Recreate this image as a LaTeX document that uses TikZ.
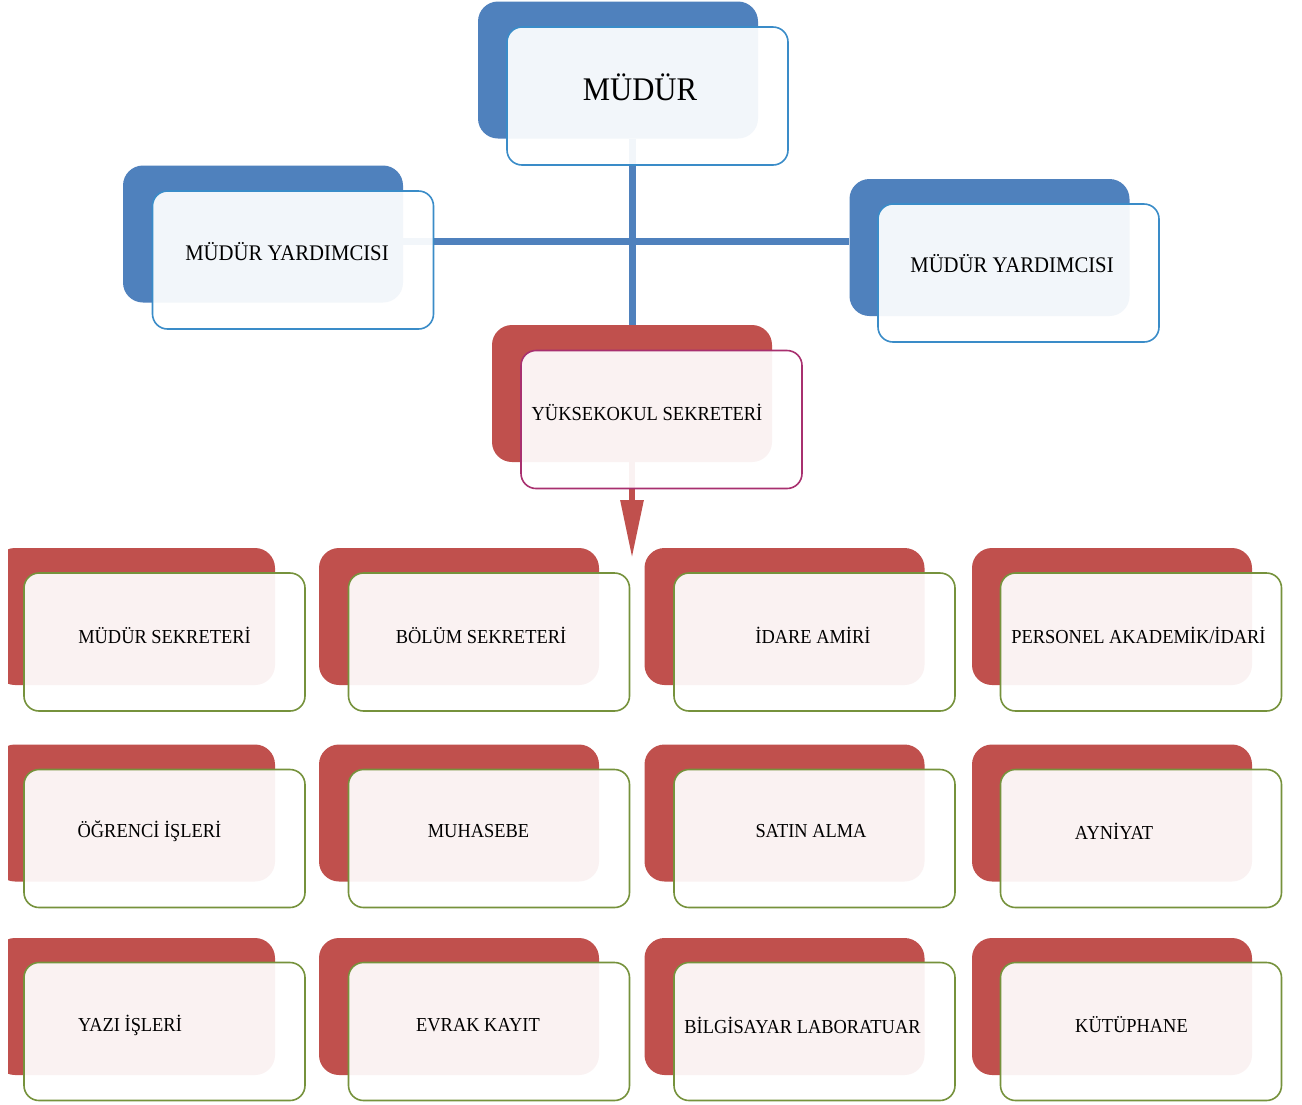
\documentclass[tikz,border=0pt]{standalone}
\usepackage{fontspec}
\setmainfont{Liberation Serif}
\newfontfamily\condfont{Liberation Serif}[FakeStretch=0.93]
\usetikzlibrary{arrows.meta}
\definecolor{bblue}{HTML}{4F81BD}
\definecolor{rred}{HTML}{C0504D}
\definecolor{fblue}{HTML}{3A8CC8}
\definecolor{fpurple}{HTML}{A8306F}
\definecolor{fgreen}{HTML}{76923C}
\begin{document}
\begin{tikzpicture}[x=1pt,y=-1pt,
  backbox/.style={rectangle, rounded corners=20pt, minimum width=280pt, minimum height=137pt, inner sep=0pt, draw=none},
  backb/.style={backbox, fill=bblue},
  backr/.style={backbox, fill=rred},
  frontbox/.style={rectangle, rounded corners=15pt, minimum width=281pt, minimum height=138pt, inner sep=0pt, fill=white, fill opacity=0.93, line width=1.6pt},
  frontb/.style={frontbox, draw=fblue},
  frontp/.style={frontbox, draw=fpurple},
  frontg/.style={frontbox, draw=fgreen},
  lbl/.style={font=\condfont\fontsize{19.8}{22}\selectfont, inner sep=0pt, text=black},
  bluelink/.style={draw=bblue, line width=7pt},
  redlink/.style={draw=rred, line width=6pt, -{Triangle[width=22pt,length=58pt]}},
]
\useasboundingbox[fill=white] (0,0) rectangle (1302,1104);

% ---- back boxes ----
\node[backb] (mb) at (618,70) {};
\node[backb] (lb) at (263,234) {};
\node[backb] (rb) at (989.5,247.5) {};
\node[backr] (yb) at (632,393.5) {};
\begin{scope}
  \clip (8,0) rectangle (1302,1104);
  \node[backr] (b11) at (135,616.5) {};
  \node[backr] (b21) at (135,813) {};
  \node[backr] (b31) at (135,1006.5) {};
\end{scope}
\node[backr] (b12) at (459,616.5) {};
\node[backr] (b13) at (784.5,616.5) {};
\node[backr] (b14) at (1112,616.5) {};
\node[backr] (b22) at (459,813) {};
\node[backr] (b23) at (784.5,813) {};
\node[backr] (b24) at (1112,813) {};
\node[backr] (b32) at (459,1006.5) {};
\node[backr] (b33) at (784.5,1006.5) {};
\node[backr] (b34) at (1112,1006.5) {};

% ---- connectors ----
\coordinate (hub) at (632,241);
\coordinate (arrowend) at (632,558);
\draw[bluelink] (yb.north |- mb.south) -- (yb.north);
\draw[bluelink] (lb.east |- hub) -- (rb.west |- hub);
\draw[redlink] (yb.center) -- (arrowend);

% ---- front boxes ----
\node[frontb] (mf) at (647.5,96) {};
\node[frontb] (lf) at (293,260) {};
\node[frontb] (rf) at (1018.5,273) {};
\node[frontp] (yf) at (661.5,419.5) {};
\node[frontg] (f11) at (164.5,642) {};
\node[frontg] (f12) at (489,642) {};
\node[frontg] (f13) at (814.5,642) {};
\node[frontg] (f14) at (1141,642) {};
\node[frontg] (f21) at (164.5,838.5) {};
\node[frontg] (f22) at (489,838.5) {};
\node[frontg] (f23) at (814.5,838.5) {};
\node[frontg] (f24) at (1141,838.5) {};
\node[frontg] (f31) at (164.5,1031.5) {};
\node[frontg] (f32) at (489,1031.5) {};
\node[frontg] (f33) at (814.5,1031.5) {};
\node[frontg] (f34) at (1141,1031.5) {};

% ---- texts ----
\node[lbl, font=\condfont\fontsize{33}{36}\selectfont] (tm) at (640,87) {MÜDÜR};
\node[lbl, font=\condfont\fontsize{22.3}{24}\selectfont] (tl) at (287,252) {MÜDÜR YARDIMCISI};
\node[lbl, font=\condfont\fontsize{22.3}{24}\selectfont] (tr) at (1012,264) {MÜDÜR YARDIMCISI};
\node[lbl, font=\condfont\fontsize{19.9}{22}\selectfont] (ty) at (647,412) {YÜKSEKOKUL SEKRETERİ};

\node[lbl] (t11) at (164.5,635) {MÜDÜR SEKRETERİ};
\node[lbl] (t12) at (481,635) {BÖLÜM SEKRETERİ};
\node[lbl] (t13) at (813,635) {İDARE AMİRİ};
\node[lbl] (t14) at (1138.5,635) {PERSONEL AKADEMİK/İDARİ};
\node[lbl] (t21) at (149.5,831) {ÖĞRENCİ İŞLERİ};
\node[lbl] (t22) at (478.5,831) {MUHASEBE};
\node[lbl] (t23) at (811,831) {SATIN ALMA};
\node[lbl] (t24) at (1114,831) {AYNİYAT};
\node[lbl] (t31) at (130,1025) {YAZI İŞLERİ};
\node[lbl] (t32) at (478,1025) {EVRAK KAYIT};
\node[lbl] (t33) at (802.5,1025) {BİLGİSAYAR LABORATUAR};
\node[lbl] (t34) at (1131.5,1025) {KÜTÜPHANE};
\end{tikzpicture}
\end{document}
